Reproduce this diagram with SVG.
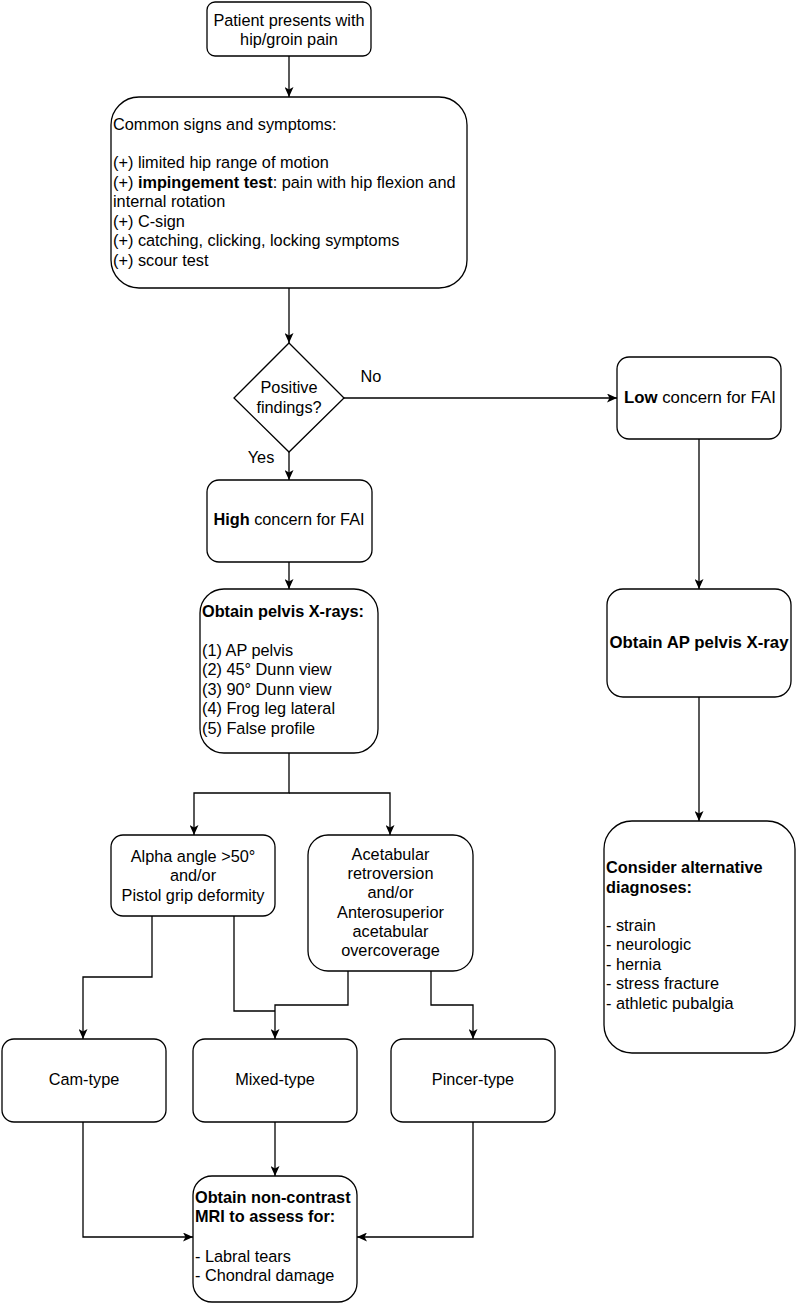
<svg xmlns="http://www.w3.org/2000/svg" width="797" height="1303" viewBox="0 0 797 1303">
<style>
.box{fill:#ffffff;stroke:#000000;stroke-width:1.3}
.ln{fill:none;stroke:#000000;stroke-width:1.3}
text{font-family:"Liberation Sans",Arial,Helvetica,sans-serif;font-size:16.3px;fill:#000000}
.c{text-anchor:middle}
.b{font-weight:bold}
</style>
<defs>
<marker id="arr" viewBox="0 0 10 9" refX="10" refY="4.5" markerWidth="10" markerHeight="9" markerUnits="userSpaceOnUse" orient="auto">
<path d="M0,0 L10,4.5 L0,9 L2.5,4.5 z" fill="#000000"/>
</marker>
</defs>
<rect width="797" height="1303" fill="#ffffff"/>
<g id="connectors">
<path class="ln" d="M289,56 V97" marker-end="url(#arr)"/>
<path class="ln" d="M289,288 V343" marker-end="url(#arr)"/>
<path class="ln" d="M344,398 H617" marker-end="url(#arr)"/>
<path class="ln" d="M289,452 V480" marker-end="url(#arr)"/>
<path class="ln" d="M289,562 V589" marker-end="url(#arr)"/>
<path class="ln" d="M289,753 V793 H194 V835" marker-end="url(#arr)"/>
<path class="ln" d="M289,793 H390 V835" marker-end="url(#arr)"/>
<path class="ln" d="M152,916 V977 H83 V1039" marker-end="url(#arr)"/>
<path class="ln" d="M234,916 V1011 H275"/>
<path class="ln" d="M348,971 V1005 H275 V1039" marker-end="url(#arr)"/>
<path class="ln" d="M431,971 V1005 H473 V1039" marker-end="url(#arr)"/>
<path class="ln" d="M83,1122 V1237 H193" marker-end="url(#arr)"/>
<path class="ln" d="M275,1122 V1176" marker-end="url(#arr)"/>
<path class="ln" d="M473,1122 V1237 H357" marker-end="url(#arr)"/>
<path class="ln" d="M699,439 V589" marker-end="url(#arr)"/>
<path class="ln" d="M699,697 V821" marker-end="url(#arr)"/>
<text class="c" x="371" y="382">No</text>
<text class="c" x="261" y="463">Yes</text>
</g>
<g id="start">
<rect class="box" x="207" y="2" width="164" height="54" rx="8"/>
<text class="c" x="289" y="26">Patient presents with</text>
<text class="c" x="289" y="45">hip/groin pain</text>
</g>
<g id="signs">
<rect class="box" x="111" y="97" width="356" height="191" rx="28"/>
<text x="113" y="130">Common signs and symptoms:</text>
<text x="113" y="168">(+) limited hip range of motion</text>
<text x="113" y="188">(+) <tspan class="b">impingement test</tspan>: pain with hip flexion and</text>
<text x="113" y="207">internal rotation</text>
<text x="113" y="227">(+) C-sign</text>
<text x="113" y="246">(+) catching, clicking, locking symptoms</text>
<text x="113" y="266">(+) scour test</text>
</g>
<g id="decision">
<path class="box" d="M289,343 L344,398 L289,452 L234,398 Z"/>
<text class="c" x="289" y="393">Positive</text>
<text class="c" x="289" y="413">findings?</text>
</g>
<g id="high">
<rect class="box" x="207" y="480" width="165" height="82" rx="12"/>
<text class="c" x="289" y="525"><tspan class="b">High</tspan> concern for FAI</text>
</g>
<g id="xrays">
<rect class="box" x="200" y="589" width="178" height="164" rx="24"/>
<text class="b" x="202" y="617">Obtain pelvis X-rays:</text>
<text x="202" y="656">(1) AP pelvis</text>
<text x="202" y="675">(2) 45° Dunn view</text>
<text x="202" y="695">(3) 90° Dunn view</text>
<text x="202" y="714">(4) Frog leg lateral</text>
<text x="202" y="734">(5) False profile</text>
</g>
<g id="alpha">
<rect class="box" x="111" y="835" width="164" height="81" rx="12"/>
<text class="c" x="193" y="862">Alpha angle &gt;50°</text>
<text class="c" x="193" y="881">and/or</text>
<text class="c" x="193" y="901">Pistol grip deformity</text>
</g>
<g id="acetabular">
<rect class="box" x="308" y="835" width="165" height="136" rx="20"/>
<text class="c" x="390.5" y="860">Acetabular</text>
<text class="c" x="390.5" y="879">retroversion</text>
<text class="c" x="390.5" y="898">and/or</text>
<text class="c" x="390.5" y="918">Anterosuperior</text>
<text class="c" x="390.5" y="937">acetabular</text>
<text class="c" x="390.5" y="956">overcoverage</text>
</g>
<g id="cam">
<rect class="box" x="2" y="1039" width="164" height="83" rx="12"/>
<text class="c" x="84" y="1085">Cam-type</text>
</g>
<g id="mixed">
<rect class="box" x="193" y="1039" width="164" height="83" rx="12"/>
<text class="c" x="275" y="1085">Mixed-type</text>
</g>
<g id="pincer">
<rect class="box" x="391" y="1039" width="164" height="83" rx="12"/>
<text class="c" x="473" y="1085">Pincer-type</text>
</g>
<g id="mri">
<rect class="box" x="193" y="1176" width="164" height="126" rx="19"/>
<text class="b" x="195" y="1203">Obtain non-contrast</text>
<text class="b" x="195" y="1222">MRI to assess for:</text>
<text x="195" y="1262">- Labral tears</text>
<text x="195" y="1281">- Chondral damage</text>
</g>
<g id="low">
<rect class="box" x="617" y="357" width="164" height="82" rx="12"/>
<text class="c" x="700" y="403" textLength="152" lengthAdjust="spacingAndGlyphs"><tspan class="b">Low</tspan> concern for FAI</text>
</g>
<g id="apxray">
<rect class="box" x="607" y="589" width="184" height="108" rx="16"/>
<text class="c b" x="699" y="648" textLength="179" lengthAdjust="spacingAndGlyphs">Obtain AP pelvis X-ray</text>
</g>
<g id="alternatives">
<rect class="box" x="604" y="821" width="191" height="232" rx="28"/>
<text class="b" x="606" y="873">Consider alternative</text>
<text class="b" x="606" y="893">diagnoses:</text>
<text x="606" y="931">- strain</text>
<text x="606" y="950">- neurologic</text>
<text x="606" y="970">- hernia</text>
<text x="606" y="989">- stress fracture</text>
<text x="606" y="1009">- athletic pubalgia</text>
</g>
</svg>
